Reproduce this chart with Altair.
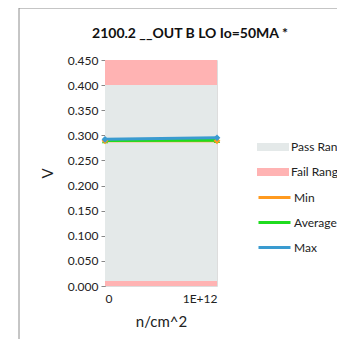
import altair as alt
import pandas as pd

# Data
x_vals = [0, 1e12]
min_vals = [0.289, 0.289]
avg_vals = [0.2895, 0.290]
max_vals = [0.292, 0.295]

band_names = ["Pass Range", "Fail Range", "Fail Range"]
band_lo = [0.01, 0.40, 0.0]
band_hi = [0.40, 0.45, 0.01]

series_names = ["Min", "Average", "Max"]
series_colors = ["#ff9a1f", "#1fdc1f", "#3a9bd0"]
band_colors = ["#e4e9e9", "#ffb3b3"]
y_ticks = [0, 0.05, 0.1, 0.15, 0.2, 0.25, 0.3, 0.35, 0.4, 0.45]

FONT = "Lato"

bands = pd.DataFrame({
    "name": band_names,
    "lo": band_lo,
    "hi": band_hi,
    "x0": [x_vals[0]] * 3,
    "x1": [x_vals[1]] * 3,
})

rows = []
for name, vals in zip(series_names, [min_vals, avg_vals, max_vals]):
    for xv, yv in zip(x_vals, vals):
        rows.append({"series": name, "x": xv, "y": yv})
lines = pd.DataFrame(rows)

xscale = alt.Scale(domain=[0, 1e12], nice=False)
yscale = alt.Scale(domain=[0, 0.45], nice=False)

x_axis = alt.Axis(title="n/cm^2", values=[0, 1e12],
                  labelExpr="datum.value == 0 ? '0' : '1E+12'",
                  grid=False, ticks=False, domain=False,
                  labelPadding=7, titlePadding=10,
                  labelFontSize=12, titleFontSize=15,
                  titleFontWeight="normal", labelColor="#222",
                  titleColor="#222", labelFont=FONT, titleFont=FONT)
y_axis = alt.Axis(title="V", values=y_ticks,
                  format=".3f", grid=False, tickSize=4, tickColor="#888",
                  domainColor="#888", labelFontSize=12, titleFontSize=15,
                  labelOverlap=False, labelBound=False, labelFlush=False,
                  titleFontWeight="normal", labelColor="#222", titleColor="#222",
                  labelFont=FONT, titleFont=FONT, titlePadding=12, labelPadding=3,
                  titleAngle=-90)

color_scale = alt.Scale(domain=series_names, range=series_colors)

border = alt.Chart(pd.DataFrame({"a": [0]})).mark_rect(
    fill=None, stroke="#8c8c8c", strokeWidth=1, clip=False
).encode(
    x=alt.value(-86), x2=alt.value(400), y=alt.value(-52), y2=alt.value(400)
)

band_chart = alt.Chart(bands).mark_rect(clip=False).encode(
    x=alt.X("x0:Q", scale=xscale, axis=x_axis),
    x2="x1:Q",
    y=alt.Y("lo:Q", scale=yscale, axis=y_axis),
    y2="hi:Q",
    fill=alt.Fill("name:N",
                  scale=alt.Scale(domain=["Pass Range", "Fail Range"], range=band_colors),
                  legend=alt.Legend(title=None, orient="none", legendX=152, legendY=71,
                                    symbolType="M-1,-0.25L1,-0.25L1,0.25L-1,0.25Z",
                                    symbolSize=1024, symbolStrokeWidth=0,
                                    rowPadding=3, labelFontSize=12, labelFont=FONT,
                                    labelColor="#222", labelOffset=2)),
)

line_chart = alt.Chart(lines).mark_line(strokeWidth=3).encode(
    x=alt.X("x:Q", scale=xscale, axis=x_axis),
    y=alt.Y("y:Q", scale=yscale, axis=y_axis),
    color=alt.Color("series:N", scale=color_scale,
                    legend=alt.Legend(title=None, orient="none", legendX=152, legendY=120,
                                      symbolType="stroke", symbolStrokeWidth=3,
                                      symbolSize=1024, rowPadding=1,
                                      labelFontSize=12, labelFont=FONT,
                                      labelColor="#222", labelOffset=2)),
)

diamonds = alt.Chart(lines).transform_filter(
    alt.FieldOneOfPredicate(field="series", oneOf=["Min", "Max"])
).mark_point(filled=True, size=45, opacity=1, shape="diamond").encode(
    x=alt.X("x:Q", scale=xscale, axis=x_axis),
    y=alt.Y("y:Q", scale=yscale, axis=y_axis),
    color=alt.Color("series:N", scale=color_scale, legend=None),
)

triangles = alt.Chart(lines).transform_filter(
    alt.FieldEqualPredicate(field="series", equal="Average")
).mark_point(filled=True, size=40, opacity=1, shape="triangle-up").encode(
    x=alt.X("x:Q", scale=xscale, axis=x_axis),
    y=alt.Y("y:Q", scale=yscale, axis=y_axis),
    color=alt.Color("series:N", scale=color_scale, legend=None),
)

chart = alt.layer(border, band_chart, line_chart, triangles, diamonds).properties(
    width=112, height=226,
    title=alt.TitleParams("2100.2 __OUT B LO Io=50MA *", fontSize=14, fontWeight="bold",
                          font=FONT, color="#111", anchor="middle", dx=29, offset=-33),
    autosize=alt.AutoSizeParams(type="none"),
    padding={"left": 97, "top": 52, "right": 120, "bottom": 53},
).configure_view(stroke=None).configure(background="white")

chart.save("out.html", embed_options={"renderer": "svg", "actions": False})
